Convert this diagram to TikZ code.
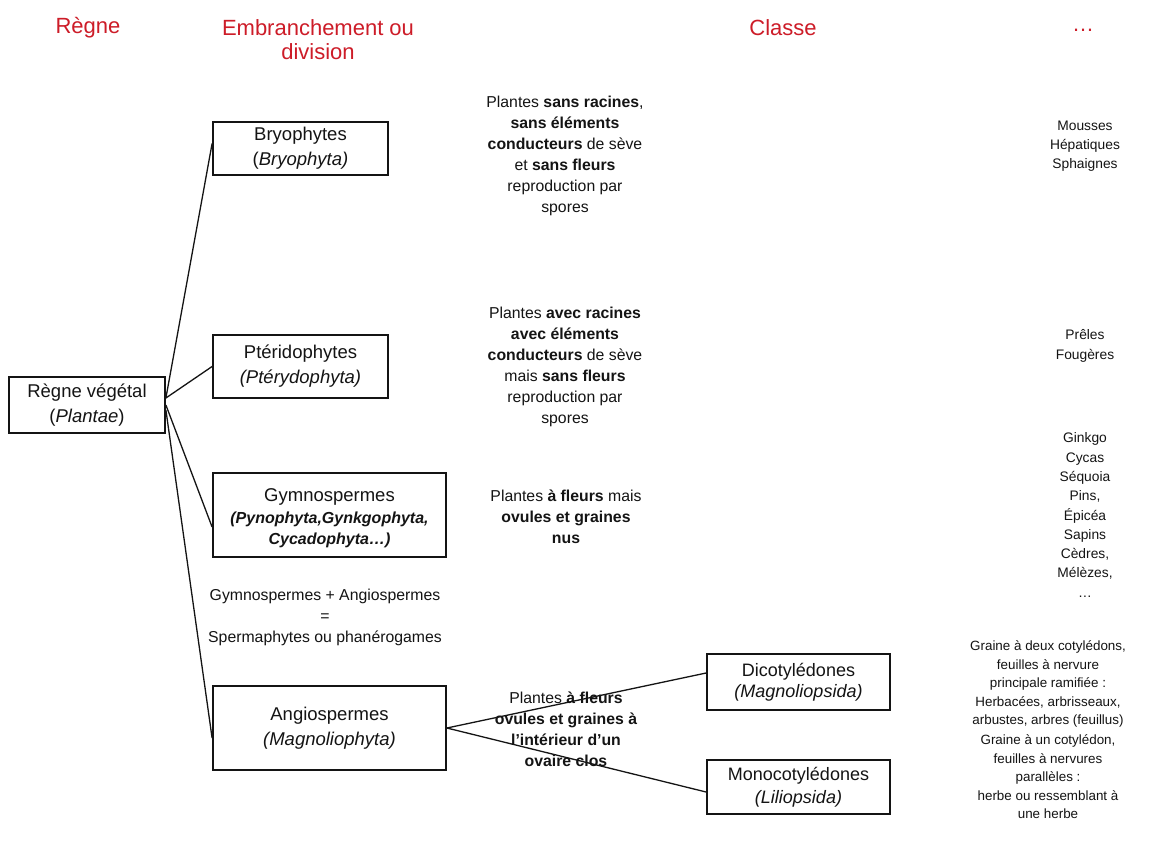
\documentclass[tikz,border=0pt]{standalone}
\usepackage{fontspec}
\setmainfont{Liberation Sans}
\newcommand\myfs[2]{\fontsize{#1}{#2}\selectfont}
\newcommand\gsub[1]{{\myfs{16}{21}\bfseries\itshape #1}}
\definecolor{hdr}{RGB}{205,28,40}
\definecolor{ink}{RGB}{20,20,20}
\begin{document}
\begin{tikzpicture}[x=1pt,y=-1pt,
  box/.style={draw=ink, line width=1.8pt, align=center, inner sep=0pt, text=ink, font=\myfs{18.5}{25}},
  desc/.style={align=center, inner sep=0pt, text=ink, font=\myfs{15.8}{21}},
  side/.style={align=center, inner sep=0pt, text=ink, font=\myfs{13.8}{19.3}},
  side2/.style={align=center, inner sep=0pt, text=ink, font=\myfs{13.4}{18.5}},
  head/.style={align=center, inner sep=0pt, text=hdr, font=\myfs{22}{24}},
  link/.style={draw=ink, line width=1.3pt}]
\useasboundingbox[fill=white] (0,0) rectangle (1153,852);

% headers
\node[head] (h1) at (88,28) {Règne};
\node[head] (h2) at (318,40) {Embranchement ou\\division};
\node[head] (h3) at (783,28) {Classe};
\node[head] (h4) at (1083,30) {…};

% boxes
\node[box, minimum width=156pt, minimum height=56pt] (R) at (87,405) {Règne végétal\\(\textit{Plantae})};
\node[box, minimum width=175pt, minimum height=53pt] (B) at (300.5,148.5) {Bryophytes\\(\textit{Bryophyta)}};
\node[box, minimum width=175pt, minimum height=63pt] (P) at (300.5,366.5) {Ptéridophytes\\\textit{(Ptérydophyta)}};
\node[box, minimum width=233pt, minimum height=84pt] (G) at (329.5,515) {};
\node[align=center, inner sep=0pt, text=ink, font=\myfs{18.5}{22}] (Gt) at ([yshift=-3pt]G.center) {Gymnospermes\\\gsub{(Pynophyta,Gynkgophyta,}\\[-1pt]\gsub{Cycadophyta…)}};
\node[box, minimum width=233pt, minimum height=84pt] (A) at (329.5,728) {Angiospermes\\\textit{(Magnoliophyta)}};
\node[box, minimum width=183pt, minimum height=56pt, font=\myfs{18}{21}] (D) at (798.5,682) {Dicotylédones\\\textit{(Magnoliopsida)}};
\node[box, minimum width=183pt, minimum height=54pt, font=\myfs{18}{23}] (M) at (798.5,787) {Monocotylédones\\\textit{(Liliopsida)}};

% descriptions
\node[desc] (dB) at (565,156) {Plantes \textbf{sans racines},\\\textbf{sans éléments}\\\textbf{conducteurs} de sève\\et \textbf{sans fleurs}\\reproduction par\\spores};
\node[desc] (dP) at (565,367) {Plantes \textbf{avec racines}\\\textbf{avec éléments}\\\textbf{conducteurs} de sève\\mais \textbf{sans fleurs}\\reproduction par\\spores};
\node[desc] (dG) at (566,517) {Plantes \textbf{à fleurs} mais\\\textbf{ovules et graines}\\\textbf{nus}};
\node[desc] (dA) at (566,729) {Plantes \textbf{à fleurs}\\\textbf{ovules et graines à}\\\textbf{l’intérieur d’un}\\\textbf{ovaire clos}};
\node[desc] (sp) at (325,617) {Gymnospermes + Angiospermes\\=\\Spermaphytes ou phanérogames};

% right column
\node[side] (eB) at (1085,146) {Mousses\\Hépatiques\\Sphaignes};
\node[side] (eP) at (1085,346) {Prêles\\Fougères};
\node[side] (eG) at (1085,515) {Ginkgo\\Cycas\\Séquoia\\Pins,\\Épicéa\\Sapins\\Cèdres,\\Mélèzes,\\…};
\node[side2] (eD) at (1048,684) {Graine à deux cotylédons,\\feuilles à nervure\\principale ramifiée :\\Herbacées, arbrisseaux,\\arbustes, arbres (feuillus)};
\node[side2] (eM) at (1048,777) {Graine à un cotylédon,\\feuilles à nervures\\parallèles :\\herbe ou ressemblant à\\une herbe};

% connectors
\draw[link] ([yshift=7pt]R.east) -- ([yshift=5pt]B.west);
\draw[link] ([yshift=7pt]R.east) -- (P.west);
\draw[link] (R.east) -- ([yshift=-12pt]G.west);
\draw[link] ([yshift=-5pt]R.east) -- ([yshift=-10pt]A.west);
\draw[link] (A.east) -- ([yshift=9pt]D.west);
\draw[link] (A.east) -- ([yshift=-5pt]M.west);
\end{tikzpicture}
\end{document}
